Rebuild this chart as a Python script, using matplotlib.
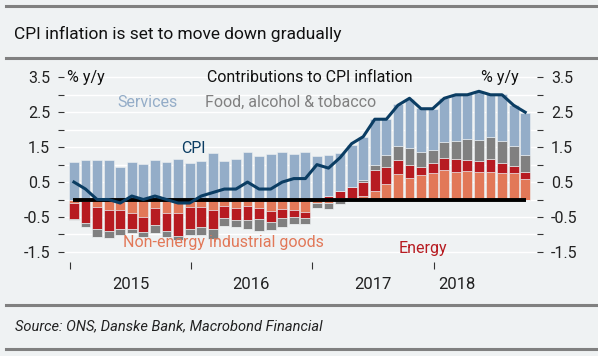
import numpy as np
import matplotlib.pyplot as plt

# Monthly data Dec 2014 - Mar 2018, contributions in pp
neig = [-0.11, -0.03, -0.20, -0.30, -0.30, -0.38, -0.49, -0.23, -0.38, -0.40,
        -0.21, -0.21, -0.30, -0.19, -0.23, -0.19, -0.25, -0.33, -0.27, -0.29,
        -0.35, -0.10, -0.10, 0.05, 0.05, 0.10, 0.25, 0.44, 0.72, 0.62,
        0.70, 0.75, 0.85, 0.78, 0.82, 0.78, 0.78, 0.77, 0.75, 0.59]
energy = [-0.46, -0.63, -0.64, -0.60, -0.55, -0.47, -0.44, -0.51, -0.52, -0.65,
          -0.62, -0.59, -0.55, -0.33, -0.36, -0.40, -0.32, -0.31, -0.27, -0.22,
          -0.19, 0.02, 0.10, 0.20, 0.30, 0.40, 0.59, 0.50, 0.41, 0.38,
          0.22, 0.30, 0.35, 0.38, 0.31, 0.33, 0.37, 0.28, 0.22, 0.21]
food = [-0.02, -0.14, -0.22, -0.19, -0.18, -0.11, -0.14, -0.21, -0.17, -0.11,
        -0.19, -0.22, -0.29, -0.24, -0.21, -0.24, -0.32, -0.23, -0.26, -0.19,
        -0.16, -0.15, -0.18, -0.12, -0.02, 0.05, 0.15, 0.33, 0.40, 0.48,
        0.45, 0.37, 0.46, 0.52, 0.60, 0.60, 0.64, 0.62, 0.56, 0.48]
services = [1.08, 1.12, 1.12, 1.12, 0.94, 1.07, 1.03, 1.12, 1.07, 1.17,
            1.04, 1.11, 1.34, 1.10, 1.15, 1.35, 1.25, 1.29, 1.35, 1.31,
            1.37, 1.23, 1.17, 1.07, 1.21, 1.25, 1.31, 1.03, 1.20, 1.39,
            1.26, 1.18, 1.24, 1.33, 1.28, 1.38, 1.22, 1.34, 1.18, 1.21]
cpi = [0.5, 0.3, 0.0, 0.0, -0.1, 0.1, 0.0, 0.1, 0.0, -0.1,
       -0.1, 0.1, 0.2, 0.3, 0.3, 0.5, 0.3, 0.3, 0.5, 0.6,
       0.6, 1.0, 0.9, 1.2, 1.6, 1.8, 2.3, 2.3, 2.7, 2.9,
       2.6, 2.6, 2.9, 3.0, 3.0, 3.1, 3.0, 3.0, 2.7, 2.5]

years = ["2015", "2016", "2017", "2018"]
year_ticks = [-0.35, 10.11, 20.57, 31.11]
year_label_pos = [4.88, 15.34, 25.84, 33.08]

bg = "#eff2f3"
c_serv = "#94adc8"
c_food = "#808080"
c_energy = "#b71b21"
c_neig = "#e27858"
c_cpi = "#0b3d63"

plt.rcParams['font.family'] = ['Roboto', 'DejaVu Sans']

fig = plt.figure(figsize=(5.98, 3.56), dpi=100, facecolor=bg)
ax = fig.add_axes([0.107, 0.264, 0.791, 0.558], facecolor=bg)

x = np.arange(len(cpi))
w = 0.86
pos_base = np.zeros(len(x))
neg_base = np.zeros(len(x))
for vals, col in [(neig, c_neig), (energy, c_energy), (food, c_food), (services, c_serv)]:
    v = np.array(vals)
    p = np.where(v > 0, v, 0)
    n = np.where(v < 0, v, 0)
    ax.bar(x, p, w, bottom=pos_base, color=col, edgecolor=bg, linewidth=0.4, zorder=2)
    ax.bar(x, n, w, bottom=neg_base, color=col, edgecolor=bg, linewidth=0.4, zorder=2)
    pos_base += p
    neg_base += n

ax.hlines(0, -0.1, 39.07, color="black", lw=2.8, zorder=3)
ax.plot(x, cpi, color=c_cpi, lw=2.2, zorder=4)

ax.set_xlim(-0.86, 40.02)
ax.set_ylim(-1.79, 3.9)

yt = np.arange(-1.5, 3.51, 0.5)
ylab = [("%.1f" % t if abs(t * 2) % 2 == 1 else "") for t in yt]
ax.set_yticks(yt)
ax.set_yticklabels(ylab)
ax.tick_params(axis="y", which="both", left=True, right=True, labelleft=True,
               labelright=True, length=4, width=0.8, color="#333333",
               labelsize=11.5, pad=6, labelcolor="#222222")
ax.grid(axis="y", color="white", lw=1, zorder=0)

ax.set_xticks(year_ticks)
ax.set_xticklabels([])
ax.set_xticks(year_label_pos, minor=True)
ax.set_xticklabels(years, minor=True)
ax.tick_params(axis="x", which="major", length=5, width=0.8, color="#333333")
ax.tick_params(axis="x", which="minor", length=0, labelsize=12, pad=11, labelcolor="#222222")

for s in ax.spines.values():
    s.set_visible(False)

ax.text(-0.6, 3.5, "% y/y", fontsize=11.5, va="center", ha="left", color="#111111")
ax.text(20.4, 3.5, "Contributions to CPI inflation", fontsize=11.5, va="center", ha="center", color="#111111")
ax.text(36.8, 3.5, "% y/y", fontsize=11.5, va="center", ha="center", color="#111111")
ax.text(6.35, 2.77, "Services", fontsize=11.5, va="center", ha="center", color=c_serv)
ax.text(11.3, 2.77, "Food, alcohol & tobacco", fontsize=11.5, va="center", ha="left", color=c_food)
ax.text(10.33, 1.45, "CPI", fontsize=11.5, va="center", ha="center", color=c_cpi)
ax.text(12.9, -1.22, "Non-energy industrial goods", fontsize=11.5, va="center", ha="center", color=c_neig)
ax.text(30.2, -1.39, "Energy", fontsize=11.5, va="center", ha="center", color=c_energy)

fig.text(14 / 598, 1 - 34 / 356, "CPI inflation is set to move down gradually",
         fontsize=12.5, va="center", ha="left", color="#111111")
fig.text(15 / 598, 1 - 326 / 356, "Source: ONS, Danske Bank, Macrobond Financial",
         fontsize=10.5, va="center", ha="left", style="italic", color="#222222")

for yy in [6, 58, 305, 349]:
    fig.add_artist(plt.Line2D([0.01, 1], [1 - yy / 356] * 2, color="#808080", lw=2.2))

fig.savefig("out.png", dpi=100, facecolor=bg)
